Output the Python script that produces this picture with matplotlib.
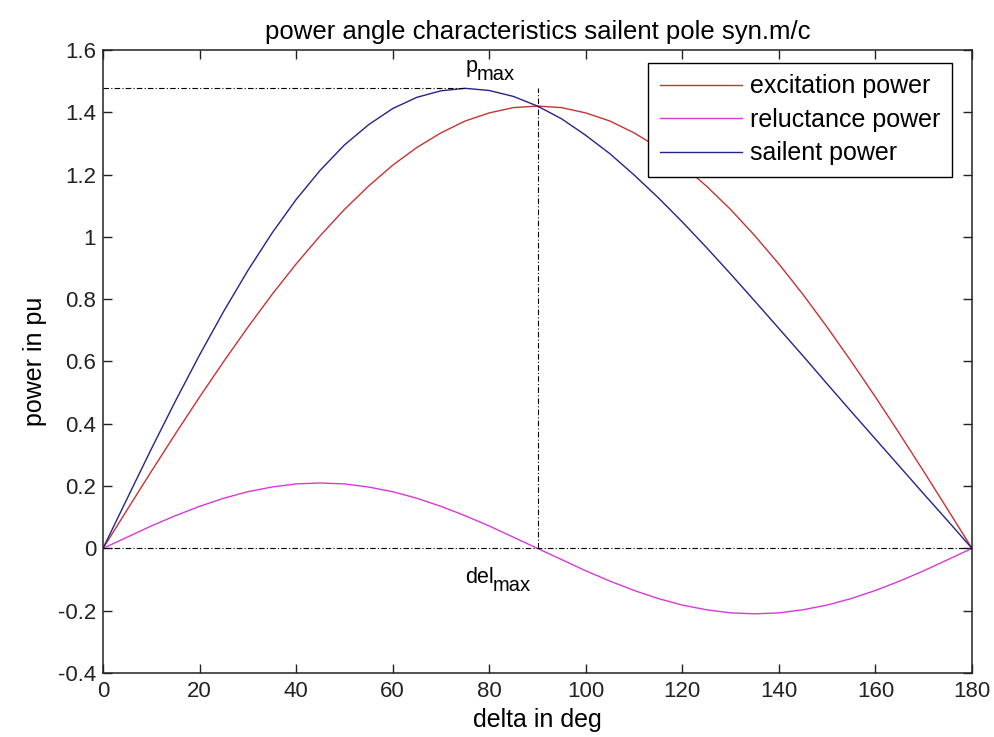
import matplotlib
matplotlib.use("Agg")
import matplotlib.pyplot as plt
import numpy as np

plt.rcParams['font.family'] = ['Liberation Sans', 'DejaVu Sans']

delta = [0, 5, 10, 15, 20, 25, 30, 35, 40, 45, 50, 55, 60, 65, 70, 75, 80, 85, 90,
         95, 100, 105, 110, 115, 120, 125, 130, 135, 140, 145, 150, 155, 160, 165, 170, 175, 180]
excitation = [0, .124, .247, .368, .486, .600, .710, .815, .913, 1.004, 1.088, 1.163, 1.230,
              1.287, 1.334, 1.372, 1.398, 1.415, 1.420, 1.415, 1.398, 1.372, 1.334, 1.287,
              1.230, 1.163, 1.088, 1.004, .913, .815, .710, .600, .486, .368, .247, .124, 0]
reluctance = [0, .036, .072, .105, .135, .161, .182, .197, .207, .210, .207, .197, .182, .161,
              .135, .105, .072, .036, 0, -.036, -.072, -.105, -.135, -.161, -.182, -.197,
              -.207, -.210, -.207, -.197, -.182, -.161, -.135, -.105, -.072, -.036, 0]
salient = [0, .160, .319, .473, .621, .761, .892, 1.012, 1.120, 1.214, 1.295, 1.360, 1.412,
           1.448, 1.469, 1.477, 1.470, 1.451, 1.420, 1.379, 1.326, 1.267, 1.199, 1.126, 1.048,
           .966, .881, .794, .706, .618, .528, .439, .351, .263, .175, .088, 0]
series_labels = ['excitation power', 'reluctance power', 'sailent power']
xticks = [0, 20, 40, 60, 80, 100, 120, 140, 160, 180]
yticks = [-0.4, -0.2, 0, 0.2, 0.4, 0.6, 0.8, 1, 1.2, 1.4, 1.6]
ytick_labels = ['-0.4', '-0.2', '0', '0.2', '0.4', '0.6', '0.8', '1', '1.2', '1.4', '1.6']
del_max = 90

fig = plt.figure(figsize=(9.94, 7.37), dpi=100)
ax = fig.add_axes([103/994, 64/737, 869/994, 623/737])

ax.plot(delta, excitation, color='#c83232', lw=1.0, label=series_labels[0])
ax.plot(delta, reluctance, color='#d838d8', lw=1.0, label=series_labels[1])
ax.plot(delta, salient, color='#24248a', lw=1.0, label=series_labels[2])

pmax = max(salient)
d_at_pmax = delta[salient.index(pmax)]
dd = (0, (5, 2, 1, 2))
ax.plot([0, d_at_pmax], [pmax, pmax], color='black', lw=0.8, linestyle=dd)
ax.plot([del_max, del_max], [0, pmax], color='black', lw=0.8, linestyle=dd)
ax.plot([0, 180], [0, 0], color='black', lw=0.8, linestyle=dd)

afs = 15.5
ax.text(75, 1.529, 'p', fontsize=afs, ha='left', va='baseline')
ax.text(77.5, 1.505, 'max', fontsize=afs - 1, ha='left', va='baseline')
ax.text(75, -0.111, 'del', fontsize=afs, ha='left', va='baseline')
ax.text(80.8, -0.138, 'max', fontsize=afs - 1, ha='left', va='baseline')

ax.set_xlim(0, 180)
ax.set_ylim(-0.4, 1.6)
ax.set_xticks(xticks)
ax.set_xticklabels([str(t) for t in xticks])
ax.set_yticks(yticks)
ax.set_yticklabels(ytick_labels)
ax.tick_params(direction='in', length=6.5, width=1.0, top=True, right=True,
               labelsize=16, colors='#222222')
ax.tick_params(axis='x', pad=6)
ax.tick_params(axis='y', pad=5)
for s in ax.spines.values():
    s.set_linewidth(1.1)
    s.set_color('#222222')

ax.set_xlabel('delta in deg', fontsize=18, labelpad=4)
ax.set_ylabel('power in pu', fontsize=18, labelpad=8)
ax.set_title('power angle characteristics sailent pole syn.m/c', fontsize=18.5, pad=8)

leg = ax.legend(loc='upper right', bbox_to_anchor=(0.977, 0.979), fontsize=18,
                frameon=True, fancybox=False, edgecolor='black', framealpha=1,
                handlelength=3.3, handletextpad=0.33, borderpad=0.45, labelspacing=0.38,
                borderaxespad=0)
leg.get_frame().set_linewidth(1.0)

fig.savefig('out.png', dpi=100)
